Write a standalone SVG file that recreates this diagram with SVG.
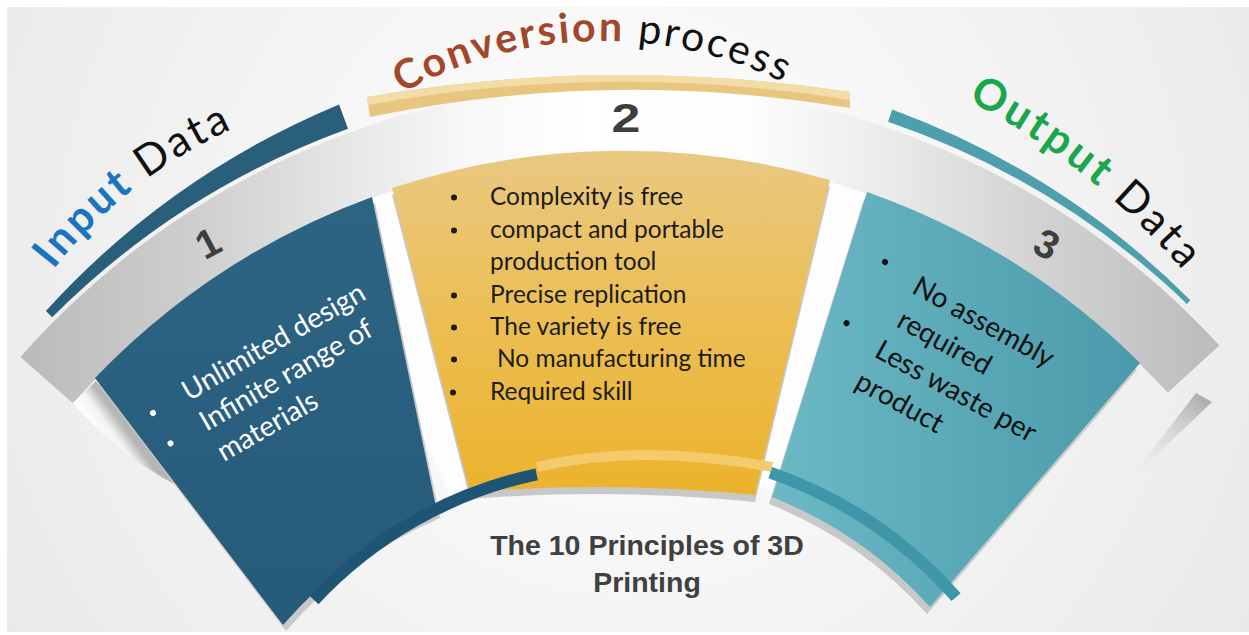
<svg xmlns="http://www.w3.org/2000/svg" xmlns:xlink="http://www.w3.org/1999/xlink" width="1249" height="635" viewBox="0 0 1249 635">
<defs>
  <radialGradient id="bg" gradientUnits="userSpaceOnUse" cx="625" cy="260" r="760">
    <stop offset="0" stop-color="#ffffff"/>
    <stop offset="0.55" stop-color="#f3f3f3"/>
    <stop offset="1" stop-color="#e8e8e8"/>
  </radialGradient>
  <linearGradient id="band" gradientUnits="userSpaceOnUse" x1="18" y1="0" x2="1230" y2="0">
    <stop offset="0" stop-color="#bababa"/>
    <stop offset="0.15" stop-color="#cfcfcf"/>
    <stop offset="0.27" stop-color="#e6e6e6"/>
    <stop offset="0.37" stop-color="#f8f8f8"/>
    <stop offset="0.47" stop-color="#ffffff"/>
    <stop offset="0.6" stop-color="#fdfdfd"/>
    <stop offset="0.7" stop-color="#eeeeee"/>
    <stop offset="0.82" stop-color="#d6d6d6"/>
    <stop offset="1" stop-color="#bababa"/>
  </linearGradient>
  <linearGradient id="g1" x1="0" y1="0" x2="0" y2="1">
    <stop offset="0" stop-color="#2d6484"/>
    <stop offset="1" stop-color="#265a79"/>
  </linearGradient>
  <linearGradient id="g2" x1="0" y1="0" x2="0" y2="1">
    <stop offset="0" stop-color="#e9c882"/>
    <stop offset="0.5" stop-color="#ecbe52"/>
    <stop offset="1" stop-color="#ebb22c"/>
  </linearGradient>
  <linearGradient id="g3" x1="0" y1="0" x2="1" y2="0">
    <stop offset="0" stop-color="#6cb9c5"/>
    <stop offset="1" stop-color="#4a9aab"/>
  </linearGradient>
  <linearGradient id="curlL" gradientUnits="userSpaceOnUse" x1="100" y1="440" x2="122" y2="424">
    <stop offset="0" stop-color="#ffffff"/>
    <stop offset="0.55" stop-color="#f3f3f3"/>
    <stop offset="1" stop-color="#b5b5b5"/>
  </linearGradient>
  <linearGradient id="curlR" gradientUnits="userSpaceOnUse" x1="1202" y1="398" x2="1126" y2="484">
    <stop offset="0" stop-color="#a8a8a8" stop-opacity="0.9"/>
    <stop offset="1" stop-color="#f0f0f0" stop-opacity="0"/>
  </linearGradient>
  <path id="shape1" d="M95,378 A738,738 0 0 1 372,197 L437,512 A430,430 0 0 0 283,625 Z"/>
  <path id="shape2" d="M392,188 A738,738 0 0 1 830,180 L755,495 Q612,480.5 470,492 Z"/>
  <path id="shape3" d="M867,192 A738,738 0 0 1 1140,363 L930,607 A420,420 0 0 0 772,497 Z"/>
  <path id="pIn" d="M53.3,269.7 A478,478 0 0 1 347,93.3" fill="none"/>
  <path id="pConv" d="M402,93.4 A412,412 0 0 1 867.8,137.4" fill="none"/>
  <path id="pOut" d="M967.6,100.3 A725,725 0 0 1 1261.9,381.5" fill="none"/>
</defs>
<style>
  .cal{font-family:Lato,"Open Sans","Liberation Sans",sans-serif}
  .num{font-family:"Liberation Sans",Arial,sans-serif;font-weight:bold;font-size:40px;fill:#3e3e3e}
  .mid{font-size:24.5px;fill:#1c1c1c}
  .side{font-size:28px}
  .hdr{font-size:43px}
  .title{font-family:"Liberation Sans",Arial,sans-serif;font-weight:bold;font-size:28.5px;fill:#404040}
  .shadow{fill:#c8c8c8}
</style>

<g id="background">
  <rect x="0" y="0" width="1249" height="635" fill="#ffffff"/>
  <rect x="7" y="7" width="1242" height="625" fill="url(#bg)"/>
  <path id="gray-band" d="M20.4,357 A806,806 0 0 1 1219.3,345.5 L1167.7,392.8 A736,736 0 0 0 72.9,403.3 Z" fill="url(#band)"/>
  <path d="M325.3,216.7 A737,737 0 0 1 901.1,206.7 L784.2,495.9 A425,425 0 0 0 452.2,501.8 Z" fill="#fdfdfd"/>
  <path d="M73,403 L96,381 L178,486 Q118,455 73,403 Z" fill="url(#curlL)"/>
  <path d="M1212,402 L1196,393 L1125,485 Z" fill="url(#curlR)"/>
</g>

<g id="shadows" class="shadow">
  <use xlink:href="#shape1" href="#shape1" transform="translate(3,6)"/>
  <use xlink:href="#shape2" href="#shape2" transform="translate(0,7)"/>
  <use xlink:href="#shape3" href="#shape3" transform="translate(-3,7)"/>
</g>

<g id="node-input">
  <use xlink:href="#shape1" href="#shape1" fill="url(#g1)"/>
  <path d="M52.2,317.2 A810,810 0 0 1 348,128.8 L339.1,104.4 A826,826 0 0 0 45.9,310.9 Z" fill="#2a5f7c"/>
  <text class="cal hdr" letter-spacing="3"><textPath xlink:href="#pIn" href="#pIn"><tspan font-weight="bold" fill="#1b74c0">Input</tspan><tspan fill="#111111"> Data</tspan></textPath></text>
  <text class="num" transform="translate(208,243) rotate(-28)" x="0" y="14" text-anchor="middle">1</text>
  <g class="cal side" fill="#ffffff" transform="translate(153,413) rotate(-30)">
    <circle cx="0" cy="0" r="3"/>
    <circle cx="0" cy="35" r="3"/>
    <text x="37" y="8">Unlimited design</text>
    <text x="37" y="43">Infinite range of</text>
    <text x="37" y="78">materials</text>
  </g>
</g>

<g id="node-conversion">
  <use xlink:href="#shape2" href="#shape2" fill="url(#g2)"/>
  <path d="M370,117 Q610,67.5 850,108 L850,92 Q608,55.5 367,97 Z" fill="#e9c67f"/>
  <path d="M368,105 Q609,61 850,100 L850,92 Q608,55.5 367,97 Z" fill="#f3dca6"/>
  <text class="cal" font-size="41" letter-spacing="2.5"><textPath xlink:href="#pConv" href="#pConv"><tspan font-weight="bold" fill="#a3472a">Conversion</tspan><tspan fill="#111111"> process</tspan></textPath></text>
  <text class="num" transform="translate(626,132) scale(1.3,1)" text-anchor="middle">2</text>
  <g class="cal mid">
    <circle cx="454" cy="197.5" r="3"/><text x="490" y="205">Complexity is free</text>
    <circle cx="454" cy="230.5" r="3"/><text x="490" y="238">compact and portable</text>
    <text x="490" y="270">production tool</text>
    <circle cx="454" cy="295.5" r="3"/><text x="490" y="303">Precise replication</text>
    <circle cx="454" cy="327.5" r="3"/><text x="490" y="335">The variety is free</text>
    <circle cx="454" cy="359.5" r="3"/><text x="497" y="367">No manufacturing time</text>
    <circle cx="453" cy="392.5" r="3"/><text x="490" y="400">Required skill</text>
  </g>
</g>

<g id="node-output">
  <use xlink:href="#shape3" href="#shape3" fill="url(#g3)"/>
  <path d="M888,121.8 A812,812 0 0 1 1187,303.9 L1190.4,300.3 A820,820 0 0 0 892.2,109.5 Z" fill="#4e9fae"/>
  <text class="cal hdr" letter-spacing="3.5"><textPath xlink:href="#pOut" href="#pOut"><tspan font-weight="bold" fill="#1aa64b">Output</tspan><tspan fill="#111111"> Data</tspan></textPath></text>
  <text class="num" transform="translate(1047,244) rotate(28)" x="0" y="14" text-anchor="middle">3</text>
  <g class="cal side" fill="#111111" transform="translate(885,262) rotate(29)">
    <circle cx="0" cy="0" r="3"/>
    <circle cx="-4" cy="72" r="3"/>
    <text x="37" y="14">No assembly</text>
    <text x="40" y="51">required</text>
    <text x="35" y="88">Less waste per</text>
    <text x="33" y="125">product</text>
  </g>
</g>

<g id="connectors">
  <path d="M309.8,596.1 A431,431 0 0 1 535.4,468.4 L537.9,480.2 A419,419 0 0 0 318.5,604.2 Z" fill="#1f5574"/>
  <path d="M537,467 Q639.5,443 772,467" fill="none" stroke="#f3cb6c" stroke-width="10"/>
  <path d="M772.3,466.9 A448,448 0 0 1 960.6,593.2 L951.6,601.1 A436,436 0 0 0 768.4,478.2 Z" fill="#3f96a8"/>
</g>

<g id="title">
  <text class="title" x="647" y="555" text-anchor="middle">The 10 Principles of 3D</text>
  <text class="title" x="647" y="592" text-anchor="middle">Printing</text>
</g>
</svg>
